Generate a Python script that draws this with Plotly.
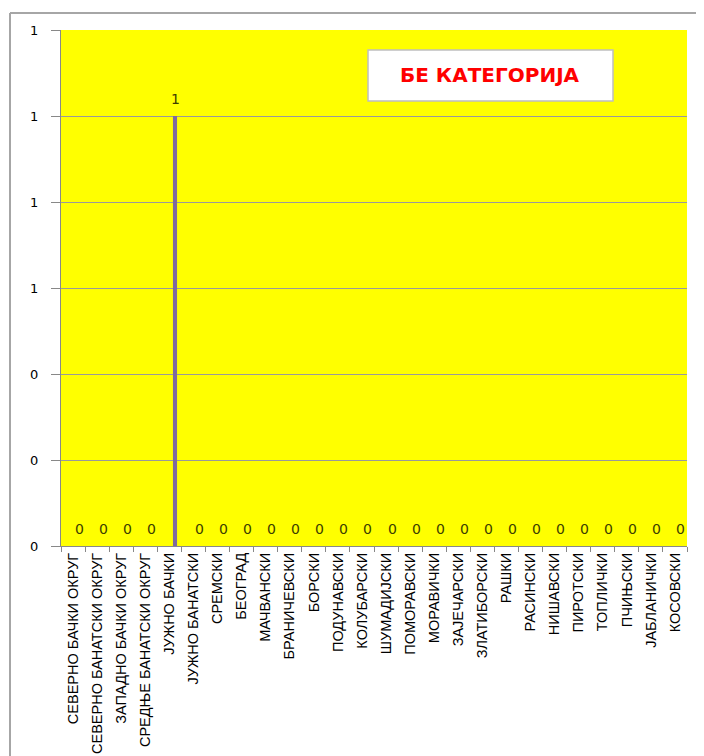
import plotly.graph_objects as go

categories = [
    "СЕВЕРНО БАЧКИ ОКРУГ", "СЕВЕРНО БАНАТСКИ ОКРУГ", "ЗАПАДНО БАЧКИ ОКРУГ",
    "СРЕДЊЕ БАНАТСКИ ОКРУГ", "ЈУЖНО БАЧКИ", "ЈУЖНО БАНАТСКИ", "СРЕМСКИ", "БЕОГРАД",
    "МАЧВАНСКИ", "БРАНИЧЕВСКИ", "БОРСКИ", "ПОДУНАВСКИ", "КОЛУБАРСКИ", "ШУМАДИЈСКИ",
    "ПОМОРАВСКИ", "МОРАВИЧКИ", "ЗАЈЕЧАРСКИ", "ЗЛАТИБОРСКИ", "РАШКИ", "РАСИНСКИ",
    "НИШАВСКИ", "ПИРОТСКИ", "ТОПЛИЧКИ", "ПЧИЊСКИ", "ЈАБЛАНИЧКИ", "КОСОВСКИ",
]
values = [0, 0, 0, 0, 1, 0, 0, 0, 0, 0, 0, 0, 0, 0, 0, 0, 0, 0, 0, 0, 0, 0, 0, 0, 0, 0]
y_ticks = [0, 0.2, 0.4, 0.6, 0.8, 1.0, 1.2]
box_label = "БЕ КАТЕГОРИЈА"

# page offset of the figure (body margin)
OFF = 8
W, H = 704 - OFF, 756 - OFF
# plot area in page pixels: x 61..687, y 30..546
L, R, T, B = 61 - OFF, 704 - 687, 30 - OFF, 756 - 546
pw, ph = W - L - R, H - T - B

def px_x(x):
    return (x - OFF - L) / pw

def px_y(y):
    return (H - B - (y - OFF)) / ph

fig = go.Figure()
fig.add_trace(go.Bar(
    x=categories, y=values,
    marker=dict(color="#7F6A9F", line=dict(width=0)),
    width=0.17, offset=0.15,
))

value_labels = [
    dict(x=c, y=v, xref="x", yref="y", text=str(v), showarrow=False,
         xanchor="center", yanchor="bottom", xshift=6, yshift=7,
         font=dict(family="DejaVu Sans", size=14, color="#3d3d00"))
    for c, v in zip(categories, values)
]

fig.update_layout(
    width=W, height=H,
    margin=dict(l=L, r=R, t=T, b=B, autoexpand=False),
    paper_bgcolor="white",
    plot_bgcolor="#FFFF00",
    showlegend=False,
    xaxis=dict(
        type="category", tickangle=-90, tickson="boundaries",
        ticks="outside", ticklen=5, tickcolor="#888888",
        showline=True, linecolor="#888888", linewidth=1,
        showgrid=False, range=[-0.5, len(categories) - 0.5],
        tickfont=dict(family="Liberation Sans", size=14.5, color="black"),
    ),
    yaxis=dict(
        range=[0, 1.2], tickvals=y_ticks, tickformat=".0f",
        ticks="outside", ticklen=9, tickcolor="#888888",
        ticklabelstandoff=10,
        showline=True, linecolor="#888888", linewidth=1,
        showgrid=True, gridcolor="#9A9A9A", gridwidth=1,
        zeroline=False,
        tickfont=dict(family="DejaVu Sans", size=13, color="black"),
    ),
    shapes=[
        dict(type="line", xref="paper", yref="paper",
             x0=px_x(10), x1=px_x(10), y0=px_y(13), y1=px_y(760),
             line=dict(color="#A6A6A6", width=2)),
        dict(type="line", xref="paper", yref="paper",
             x0=px_x(10), x1=px_x(706), y0=px_y(13), y1=px_y(13),
             line=dict(color="#A6A6A6", width=2)),
        dict(type="rect", xref="paper", yref="paper",
             x0=px_x(368), x1=px_x(613), y0=px_y(50), y1=px_y(101),
             fillcolor="white", line=dict(color="#BFBFBF", width=1.5)),
    ],
    annotations=value_labels + [
        dict(text="<b>" + box_label + "</b>", xref="paper", yref="paper",
             x=px_x(490), y=px_y(75), xanchor="center", yanchor="middle",
             showarrow=False,
             font=dict(family="DejaVu Sans", size=20, color="#FF0000")),
    ],
)

fig.write_html("out.html")
